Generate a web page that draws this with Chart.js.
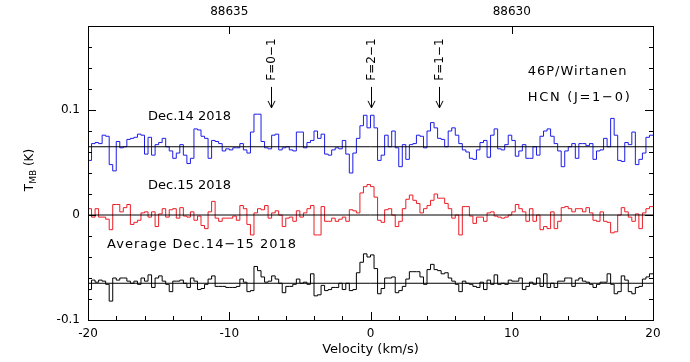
<!DOCTYPE html>
<html>
<head>
<meta charset="utf-8">
<script src="https://cdn.jsdelivr.net/npm/chart.js@4.4.0/dist/chart.umd.min.js"></script>
<style>
  html, body { margin: 0; padding: 0; background: #fff; }
  #wrap { width: 690px; height: 362px; }
</style>
</head>
<body>
<div id="wrap"><canvas id="c" width="690" height="362"></canvas></div>
<script>
// velocity grid of the spectra (km/s)
const velStart = -20;
const chanWidth = 0.25;

// antenna temperature per channel (K), relative to each baseline
const dec14 = [
  -0.013, 0.003, 0.004, 0.003, 0.011, 0.010, -0.017, -0.023, 0.005, -0.001,
  0, 0.007, 0.008, 0.009, 0.012, 0.011, -0.007, 0.009, -0.008, 0.002,
  0.004, 0.008, 0, -0.004, -0.011, -0.006, 0.002, -0.008, -0.016, -0.011,
  0.017, 0.016, 0.010, 0.008, -0.011, 0.006, 0.005, 0.003, -0.004, -0.002,
  -0.003, -0.001, -0.001, 0.003, -0.003, -0.006, 0.014, 0.031, 0.031, 0.005,
  -0.001, -0.002, 0.011, 0.012, -0.003, -0.001, 0, -0.003, -0.004, 0.014,
  0.014, -0.001, 0.004, 0.006, 0.015, 0.008, 0.012, -0.007, -0.008, -0.003,
  -0.001, -0.002, 0.006, -0.007, -0.025, -0.006, 0.008, 0.020, 0.030, 0.018,
  0.030, 0.018, -0.013, -0.008, 0.011, 0, 0.015, -0.001, -0.019, 0.002,
  -0.012, 0.002, 0.003, 0.011, 0.010, -0.001, 0.015, 0.023, 0.018, 0.008,
  0.007, 0, 0.015, 0.018, 0.011, 0.003, -0.003, -0.005, -0.011, -0.012,
  -0.003, 0.004, 0.006, -0.010, 0.011, 0.017, -0.002, -0.003, 0.002, 0.011,
  0.006, -0.009, -0.004, 0.002, -0.011, -0.011, 0, -0.008, 0.010, 0.015,
  0.017, 0.010, 0.003, -0.004, -0.019, -0.004, 0, 0.003, -0.011, 0.003,
  0.003, 0.001, 0.003, -0.012, -0.004, -0.003, 0.008, 0, 0.027, 0.011,
  -0.013, -0.014, 0.004, 0.002, 0.014, -0.017, -0.012, -0.006, 0.009, 0.011
];
const dec15 = [
  0.006, -0.002, 0.006, -0.002, -0.002, -0.004, -0.014, 0.010, 0.010, 0.003,
  0.007, 0.010, -0.009, -0.007, -0.005, 0.002, 0.003, -0.002, 0.003, -0.011,
  0.001, 0.006, -0.002, 0.005, 0.006, -0.003, 0.007, -0.001, -0.002, 0.003,
  -0.005, -0.001, -0.010, -0.013, 0.003, 0.013, -0.003, -0.006, -0.003, -0.003,
  -0.003, -0.001, -0.005, 0.009, 0.006, -0.009, -0.019, 0.002, 0.006, 0.005,
  0.009, -0.003, 0.002, 0.004, 0, -0.011, -0.003, -0.002, -0.006, 0.004,
  -0.002, 0.002, 0.006, 0.009, -0.019, -0.019, 0.008, -0.006, -0.006, -0.003,
  -0.006, -0.004, -0.002, -0.006, 0.005, 0.004, 0.002, 0.021, 0.027, 0.029,
  0.027, 0.017, -0.005, -0.007, 0.005, 0.006, 0, -0.011, -0.006, 0.006,
  0.015, 0.019, 0.014, 0.011, 0.002, 0.006, 0.009, 0.014, 0.020, 0.016,
  0.016, 0.011, 0.006, -0.003, 0, -0.019, 0.008, 0.008, -0.001, -0.008,
  -0.002, -0.002, -0.006, 0.002, 0.003, -0.001, -0.002, -0.003, -0.002, 0,
  0.003, 0.010, 0.006, 0.003, -0.006, 0.006, -0.006, 0, -0.014, -0.011,
  -0.013, 0.003, -0.013, -0.006, 0.007, 0.008, 0.006, 0.003, 0.006, 0.006,
  0.003, 0.007, 0.002, -0.005, -0.006, 0.003, -0.006, -0.007, -0.017, -0.016,
  0, 0.007, 0.003, -0.002, -0.006, 0.001, -0.013, 0.002, 0.006, 0.008
];
const average = [
  -0.006, 0.003, 0.001, 0.003, 0.002, -0.001, -0.017, 0.005, 0.003, 0.005,
  0.005, 0.002, 0, 0.002, -0.001, 0.005, 0.002, 0.008, -0.004, 0.005,
  0.007, 0.002, -0.001, -0.008, 0.002, 0.002, 0.003, 0, -0.004, 0.005,
  0.002, -0.006, -0.005, -0.001, 0.004, 0.007, -0.003, -0.003, -0.003, -0.004,
  -0.004, -0.004, -0.003, 0.004, 0.001, -0.008, -0.007, 0.016, 0.012, 0.006,
  0.001, 0.002, 0.007, 0.004, 0, -0.009, -0.003, -0.003, -0.001, 0.004,
  0, 0.001, -0.001, 0.009, -0.012, -0.011, -0.002, -0.007, -0.006, -0.004,
  -0.004, 0, -0.006, 0, -0.007, -0.006, 0.010, 0.020, 0.028, 0.025,
  0.027, 0.014, -0.010, -0.005, 0.005, 0.005, 0.006, -0.009, -0.007, -0.003,
  0.004, 0.011, 0.011, 0.011, 0.006, -0.001, 0.013, 0.018, 0.013, 0.012,
  0.009, 0.010, 0.005, 0.002, -0.001, -0.008, 0.002, 0, -0.001, -0.003,
  -0.004, 0.001, -0.006, 0.003, -0.001, 0.008, -0.001, 0, -0.001, 0.003,
  0.002, 0.002, 0.005, -0.006, -0.003, 0.001, -0.001, 0.005, -0.003, 0.009,
  -0.004, 0, -0.004, 0.002, 0.002, 0.005, 0.005, -0.003, 0.003, 0.005,
  0.002, 0.001, -0.001, -0.004, -0.001, 0.001, 0.001, 0.009, -0.001, -0.010,
  -0.008, 0.007, 0.003, -0.008, -0.010, -0.004, -0.003, 0.004, 0.006, 0.009
];

// vertical offsets of the three spectra (K)
const offsetDec14 = 0.065;
const offsetDec15 = 0;
const offsetAverage = -0.065;

// axes
const xTicks = [-20, -10, 0, 10, 20];
const xMinor = [-18, -16, -14, -12, -8, -6, -4, -2, 2, 4, 6, 8, 12, 14, 16, 18];
const yTicks = [-0.1, 0, 0.1];
const yMinor = [-0.08, -0.06, -0.04, -0.02, 0.02, 0.04, 0.06, 0.08, 0.12, 0.14, 0.16];
const freqTickVel = [-10, 10];
const freqLabels = ['88635', '88630'];

// hyperfine components (km/s)
const hfLabels = ['F=0\u22121', 'F=2\u22121', 'F=1\u22121'];
const hfVel = [-7.07, 0, 4.84];

const FONT = '"DejaVu Sans", "Liberation Sans", sans-serif';

function stepPoints(vals, off) {
  const pts = vals.map((v, i) => ({ x: velStart + i * chanWidth, y: v + off }));
  pts.push({ x: velStart + vals.length * chanWidth, y: vals[vals.length - 1] + off });
  return pts;
}

function baseline(off) {
  return {
    data: [{ x: -20, y: off }, { x: 20, y: off }],
    borderColor: '#000', borderWidth: 1, pointRadius: 0
  };
}

function spectrum(vals, off, color) {
  return {
    data: stepPoints(vals, off),
    borderColor: color, borderWidth: 1, pointRadius: 0, stepped: 'before'
  };
}

const overlay = {
  id: 'overlay',
  afterDatasetsDraw(chart) {
    const { ctx, chartArea: a, scales: { x, y } } = chart;
    ctx.save();
    ctx.strokeStyle = '#000';
    ctx.fillStyle = '#000';
    ctx.lineWidth = 1;
    ctx.strokeRect(a.left + 0.5, a.top + 0.5, a.right - a.left, a.bottom - a.top);

    ctx.beginPath();
    const xt = (vals, len) => vals.forEach(v => {
      const px = Math.round(x.getPixelForValue(v)) + 0.5;
      ctx.moveTo(px, a.bottom); ctx.lineTo(px, a.bottom - len);
    });
    xt(xTicks, 8); xt(xMinor, 4);
    const topt = (vals, len) => vals.forEach(v => {
      const px = Math.round(x.getPixelForValue(v)) + 0.5;
      ctx.moveTo(px, a.top); ctx.lineTo(px, a.top + len);
    });
    topt(freqTickVel, 8);
    const yt = (vals, len) => vals.forEach(v => {
      const py = Math.round(y.getPixelForValue(v)) + 0.5;
      ctx.moveTo(a.left, py); ctx.lineTo(a.left + len, py);
      ctx.moveTo(a.right, py); ctx.lineTo(a.right - len, py);
    });
    yt(yTicks, 8); yt(yMinor, 4);
    ctx.stroke();

    // arrows marking the hyperfine components
    ctx.beginPath();
    hfVel.forEach(v => {
      const px = Math.round(x.getPixelForValue(v)) + 0.5;
      const y0 = y.getPixelForValue(0.122);
      const y1 = y.getPixelForValue(0.102);
      ctx.moveTo(px, y0); ctx.lineTo(px, y1);
      ctx.moveTo(px - 3.5, y1 - 7); ctx.lineTo(px, y1); ctx.lineTo(px + 3.5, y1 - 7);
    });
    ctx.stroke();

    ctx.font = '12px ' + FONT;
    ctx.letterSpacing = '0px';
    ctx.textBaseline = 'middle';
    ctx.textAlign = 'center';
    hfLabels.forEach((t, i) => {
      ctx.save();
      ctx.translate(x.getPixelForValue(hfVel[i]) + 1, y.getPixelForValue(0.148));
      ctx.rotate(-Math.PI / 2);
      ctx.fillText(t, 0, 0);
      ctx.restore();
    });

    ctx.font = '13px ' + FONT;
    ctx.textAlign = 'left';
    ctx.textBaseline = 'alphabetic';
    const label = (t, v, k, sp) => {
      ctx.letterSpacing = sp + 'px';
      ctx.fillText(t, x.getPixelForValue(v), y.getPixelForValue(k));
    };
    label('Dec.14 2018', -15.75, 0.0905, 0);
    label('Dec.15 2018', -15.75, 0.0248, 0);
    label('Average Dec.14\u221215 2018', -18.65, -0.0314, 1);
    label('46P/Wirtanen', 11.13, 0.133, 1);
    label('HCN (J=1\u22120)', 11.13, 0.1086, 1.7);

    // axis titles
    ctx.letterSpacing = '0px';
    ctx.font = '13px ' + FONT;
    ctx.textAlign = 'center';
    ctx.textBaseline = 'middle';
    ctx.fillText('Velocity (km/s)', (a.left + a.right) / 2, 350);
    ctx.save();
    ctx.translate(30, (a.top + a.bottom) / 2 - 3);
    ctx.rotate(-Math.PI / 2);
    ctx.textAlign = 'left';
    ctx.font = '12px ' + FONT;
    const w1 = ctx.measureText('T').width;
    ctx.font = '9px ' + FONT;
    const w2 = ctx.measureText('MB').width;
    ctx.font = '12px ' + FONT;
    const w3 = ctx.measureText(' (K)').width;
    let cx = -(w1 + w2 + w3) / 2;
    ctx.fillText('T', cx, 0); cx += w1;
    ctx.font = '9px ' + FONT;
    ctx.fillText('MB', cx, 4); cx += w2;
    ctx.font = '12px ' + FONT;
    ctx.fillText(' (K)', cx, 0);
    ctx.restore();
    ctx.restore();
  }
};

new Chart(document.getElementById('c'), {
  type: 'line',
  data: {
    datasets: [
      baseline(offsetDec14),
      baseline(offsetDec15),
      baseline(offsetAverage),
      spectrum(dec14, offsetDec14, '#1c1ce8'),
      spectrum(dec15, offsetDec15, '#ec1c24'),
      spectrum(average, offsetAverage, '#000000')
    ]
  },
  options: {
    responsive: false,
    animation: false,
    layout: { padding: { left: 0, right: 37, top: 0, bottom: 0 } },
    plugins: { legend: { display: false }, tooltip: { enabled: false } },
    elements: { line: { tension: 0 } },
    scales: {
      x: {
        type: 'linear', position: 'bottom', min: -20, max: 20,
        grid: { display: false, drawTicks: false }, border: { display: false },
        afterBuildTicks: s => { s.ticks = xTicks.map(v => ({ value: v })); },
        afterFit: s => { s.height = 42; },
        ticks: { color: '#000', font: { size: 12, family: FONT }, padding: 7, maxRotation: 0 }
      },
      x2: {
        type: 'linear', position: 'top', min: -20, max: 20,
        grid: { display: false, drawTicks: false }, border: { display: false },
        afterBuildTicks: s => { s.ticks = freqTickVel.map(v => ({ value: v })); },
        afterFit: s => { s.height = 26; },
        ticks: {
          color: '#000', font: { size: 12, family: FONT }, padding: 7, maxRotation: 0,
          callback: (v, i) => freqLabels[i]
        }
      },
      y: {
        type: 'linear', min: -0.1, max: 0.18,
        grid: { display: false, drawTicks: false }, border: { display: false },
        afterBuildTicks: s => { s.ticks = yTicks.map(v => ({ value: v })); },
        afterFit: s => { s.width = 88; },
        ticks: {
          color: '#000', font: { size: 12, family: FONT }, padding: 8,
          callback: v => (v === 0 ? '0' : String(Math.round(v * 10) / 10))
        }
      }
    }
  },
  plugins: [overlay]
});
</script>
</body>
</html>
